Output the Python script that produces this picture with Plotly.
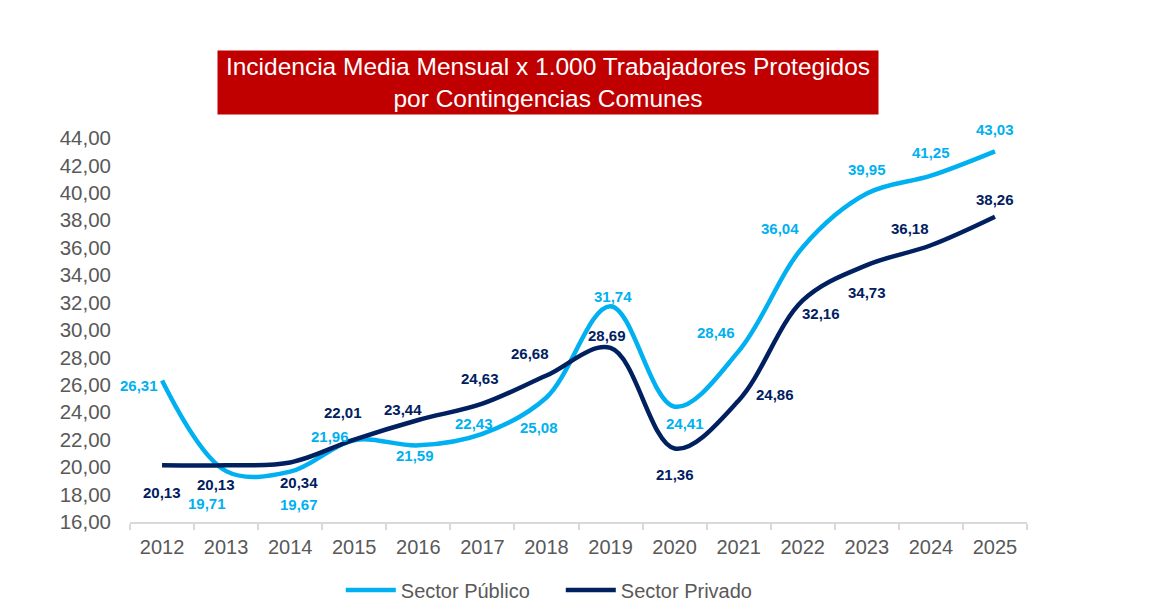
import plotly.graph_objects as go

years = list(range(2012, 2026))
publico = [26.31, 19.71, 19.67, 21.96, 21.59, 22.43, 25.08, 31.74, 24.41, 28.46, 36.04, 39.95, 41.25, 43.03]
privado = [20.13, 20.13, 20.34, 22.01, 23.44, 24.63, 26.68, 28.69, 21.36, 24.86, 32.16, 34.73, 36.18, 38.26]
y_ticks = list(range(16, 46, 2))

# label offsets in px (x, y) - hand placed like the original
pub_offsets = [(-23, -5), (-19, -32), (9, -33), (-24, 4), (-3, -10), (-8, 10), (-7, -30),
               (2, 10), (10, -17), (-23, 19), (-23, 19), (0, 24), (0, 23), (0, 22)]
priv_offsets = [(0, -27), (-10, -19), (9, -20), (-11, 27), (-15, 10), (-2, 25), (-16, 22),
                (-4, 12), (0, -26), (36, 6), (18, -13), (0, -27), (-21, 17), (0, 17)]

PUB_COLOR = '#00B0F0'
PRIV_COLOR = '#002060'
FONT = 'Liberation Sans, Arial, sans-serif'


def fmt(v):
    return f"{v:.2f}".replace('.', ',')


fig = go.Figure()

fig.add_trace(go.Scatter(
    x=years, y=publico, name='Sector Público', mode='lines',
    line=dict(color=PUB_COLOR, width=4.5, shape='spline', smoothing=1.0),
))
fig.add_trace(go.Scatter(
    x=years, y=privado, name='Sector Privado', mode='lines',
    line=dict(color=PRIV_COLOR, width=4.5, shape='spline', smoothing=1.0),
))

annotations = []
for vals, offs, col in [(publico, pub_offsets, PUB_COLOR), (privado, priv_offsets, PRIV_COLOR)]:
    for yr, v, (dx, dy) in zip(years, vals, offs):
        annotations.append(dict(
            x=yr, y=v, xref='x', yref='y', text=f"<b>{fmt(v)}</b>",
            showarrow=False, xshift=dx, yshift=dy,
            font=dict(family=FONT, size=15, color=col),
        ))

# title box
annotations.append(dict(
    x=0.466, y=1.144, xref='paper', yref='paper', xanchor='center', yanchor='middle',
    text='Incidencia Media Mensual x 1.000 Trabajadores Protegidos<br>por Contingencias Comunes',
    showarrow=False, bgcolor='#C00000', width=656, height=59, borderpad=2,
    font=dict(family=FONT, size=24.5, color='white'), align='center',
))

fig.update_layout(
    width=1149, height=613,
    margin=dict(l=122, r=130, t=130, b=91),
    paper_bgcolor='white', plot_bgcolor='white',
    separators=',.',
    font=dict(family=FONT, color='#595959'),
    showlegend=True,
    legend=dict(
        orientation='h', x=0.235, xanchor='left', y=-0.177, yanchor='middle',
        font=dict(family=FONT, size=20, color='#595959'),
        entrywidth=155, itemwidth=50,
    ),
    annotations=annotations,
)

fig.update_xaxes(
    range=[2011.5, 2025.5], tickvals=years, ticktext=[str(y) for y in years],
    showgrid=False, zeroline=False, showline=True, linecolor='#D9D9D9', linewidth=1.5,
    ticks='', ticklabelstandoff=6, tickfont=dict(family=FONT, size=20, color='#595959'),
    minor=dict(tick0=2011.5, dtick=1, ticks='outside', ticklen=6, tickcolor='#D9D9D9', tickwidth=1.5),
)
fig.update_yaxes(
    range=[16, 44], tickvals=y_ticks, tickformat='.2f',
    showgrid=False, zeroline=False, showline=False, ticks='', ticklabelstandoff=18,
    tickfont=dict(family=FONT, size=20.5, color='#595959'),
)

fig.write_html('out.html')
